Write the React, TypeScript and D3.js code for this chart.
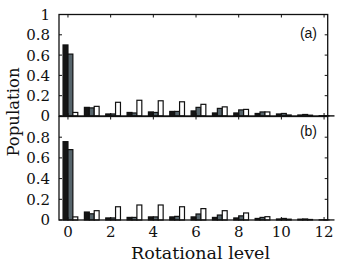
import React, { useRef, useEffect } from 'react';
import * as d3 from 'd3';

// rotational levels 0..12
const levels = [0, 1, 2, 3, 4, 5, 6, 7, 8, 9, 10, 11, 12];

// panel (a)
const aBlack = [0.70, 0.085, 0.02, 0.035, 0.04, 0.045, 0.05, 0.03, 0.03, 0.025, 0.02, 0.01, 0.003];
const aGray = [0.61, 0.08, 0.02, 0.03, 0.035, 0.045, 0.085, 0.075, 0.06, 0.04, 0.025, 0.015, 0.003];
const aWhite = [0.035, 0.095, 0.135, 0.155, 0.15, 0.14, 0.115, 0.09, 0.065, 0.04, 0.01, 0.008, 0.002];

// panel (b)
const bBlack = [0.757, 0.077, 0.02, 0.025, 0.03, 0.03, 0.03, 0.025, 0.02, 0.015, 0.01, 0.008, 0.002];
const bGray = [0.68, 0.06, 0.02, 0.025, 0.03, 0.035, 0.058, 0.048, 0.04, 0.025, 0.015, 0.01, 0.002];
const bWhite = [0.03, 0.09, 0.128, 0.145, 0.145, 0.128, 0.11, 0.09, 0.068, 0.032, 0.008, 0.005, 0.001];

const yTicks = [0, 0.2, 0.4, 0.6, 0.8, 1];
const yLabelsA = [0, 0.2, 0.4, 0.6, 0.8, 1];
const yLabelsB = [0, 0.2, 0.4, 0.6, 0.8];
const xTicks = [0, 2, 4, 6, 8, 10, 12];

const serif = '"DejaVu Serif", serif';

export default function App() {
  const svgRef = useRef<SVGSVGElement>(null);

  useEffect(() => {
    if (!svgRef.current) return;
    const svg = d3.select(svgRef.current);
    svg.selectAll('*').remove();

    const left = 59;
    const right = 327.7;
    const x = d3.scaleLinear().domain([-0.42, 12.17]).range([left, right]);
    const w = 0.23; // bar width in level units

    const panels = [
      { label: '(a)', top: 14.5, bottom: 116, data: [aBlack, aGray, aWhite], yLabels: yLabelsA },
      { label: '(b)', top: 116.5, bottom: 220, data: [bBlack, bGray, bWhite], yLabels: yLabelsB },
    ];

    const fills = ['#151515', '#56646b', '#ffffff'];

    panels.forEach((p, pi) => {
      const y = d3.scaleLinear().domain([0, 1]).range([p.bottom, p.top]);
      const g = svg.append('g');

      p.data.forEach((series, si) => {
        g.selectAll(null)
          .data(levels)
          .enter()
          .append('rect')
          .attr('x', (d) => x(d - w + si * w))
          .attr('width', x(w) - x(0))
          .attr('y', (d) => y(series[d]))
          .attr('height', (d) => y(0) - y(series[d]))
          .attr('fill', fills[si])
          .attr('stroke', '#111')
          .attr('stroke-width', 1.2);
      });

      // frame
      g.append('rect')
        .attr('x', left)
        .attr('y', p.top)
        .attr('width', right - left)
        .attr('height', p.bottom - p.top)
        .attr('fill', 'none')
        .attr('stroke', '#111')
        .attr('stroke-width', 1.3);

      // y ticks left and right
      yTicks.forEach((t) => {
        g.append('line')
          .attr('x1', left).attr('x2', left + 3)
          .attr('y1', y(t)).attr('y2', y(t))
          .attr('stroke', '#111').attr('stroke-width', 1);
        g.append('line')
          .attr('x1', right).attr('x2', right - 3)
          .attr('y1', y(t)).attr('y2', y(t))
          .attr('stroke', '#111').attr('stroke-width', 1);
      });

      // x ticks top and bottom
      xTicks.forEach((t) => {
        g.append('line')
          .attr('x1', x(t)).attr('x2', x(t))
          .attr('y1', p.top).attr('y2', p.top + 3)
          .attr('stroke', '#111').attr('stroke-width', 1);
        g.append('line')
          .attr('x1', x(t)).attr('x2', x(t))
          .attr('y1', p.bottom).attr('y2', p.bottom - 3)
          .attr('stroke', '#111').attr('stroke-width', 1);
      });

      // y tick labels
      g.selectAll(null)
        .data(p.yLabels)
        .enter()
        .append('text')
        .attr('x', 50)
        .attr('y', (d) => y(d))
        .attr('dy', '0.36em')
        .attr('text-anchor', 'end')
        .attr('font-family', serif)
        .attr('font-size', 15)
        .attr('fill', '#111')
        .text((d) => d3.format('~g')(d));

      g.append('text')
        .attr('x', 317)
        .attr('y', p.top + (pi === 0 ? 18.5 : 14.5))
        .attr('dy', '0.36em')
        .attr('text-anchor', 'end')
        .attr('font-family', '"Liberation Sans", Arial, sans-serif')
        .attr('font-size', 14)
        .attr('fill', '#111')
        .text(p.label);

      if (pi === 1) {
        g.selectAll(null)
          .data(xTicks)
          .enter()
          .append('text')
          .attr('x', (d) => x(d))
          .attr('y', 232)
          .attr('dy', '0.36em')
          .attr('text-anchor', 'middle')
          .attr('font-family', serif)
          .attr('font-size', 15)
          .attr('fill', '#111')
          .text((d) => String(d));
      }
    });

    svg.append('text')
      .attr('x', 200.5)
      .attr('y', 253)
      .attr('dy', '0.36em')
      .attr('text-anchor', 'middle')
      .attr('font-family', serif)
      .attr('font-size', 17.5)
      .attr('fill', '#111')
      .text('Rotational level');

    svg.append('text')
      .attr('transform', 'translate(13,112) rotate(-90)')
      .attr('dy', '0.36em')
      .attr('text-anchor', 'middle')
      .attr('font-family', serif)
      .attr('font-size', 16.5)
      .attr('fill', '#111')
      .text('Population');
  }, []);

  return (
    <svg
      ref={svgRef}
      width={349}
      height={268}
      style={{ position: 'absolute', left: 0, top: 0, background: '#fff' }}
    />
  );
}
